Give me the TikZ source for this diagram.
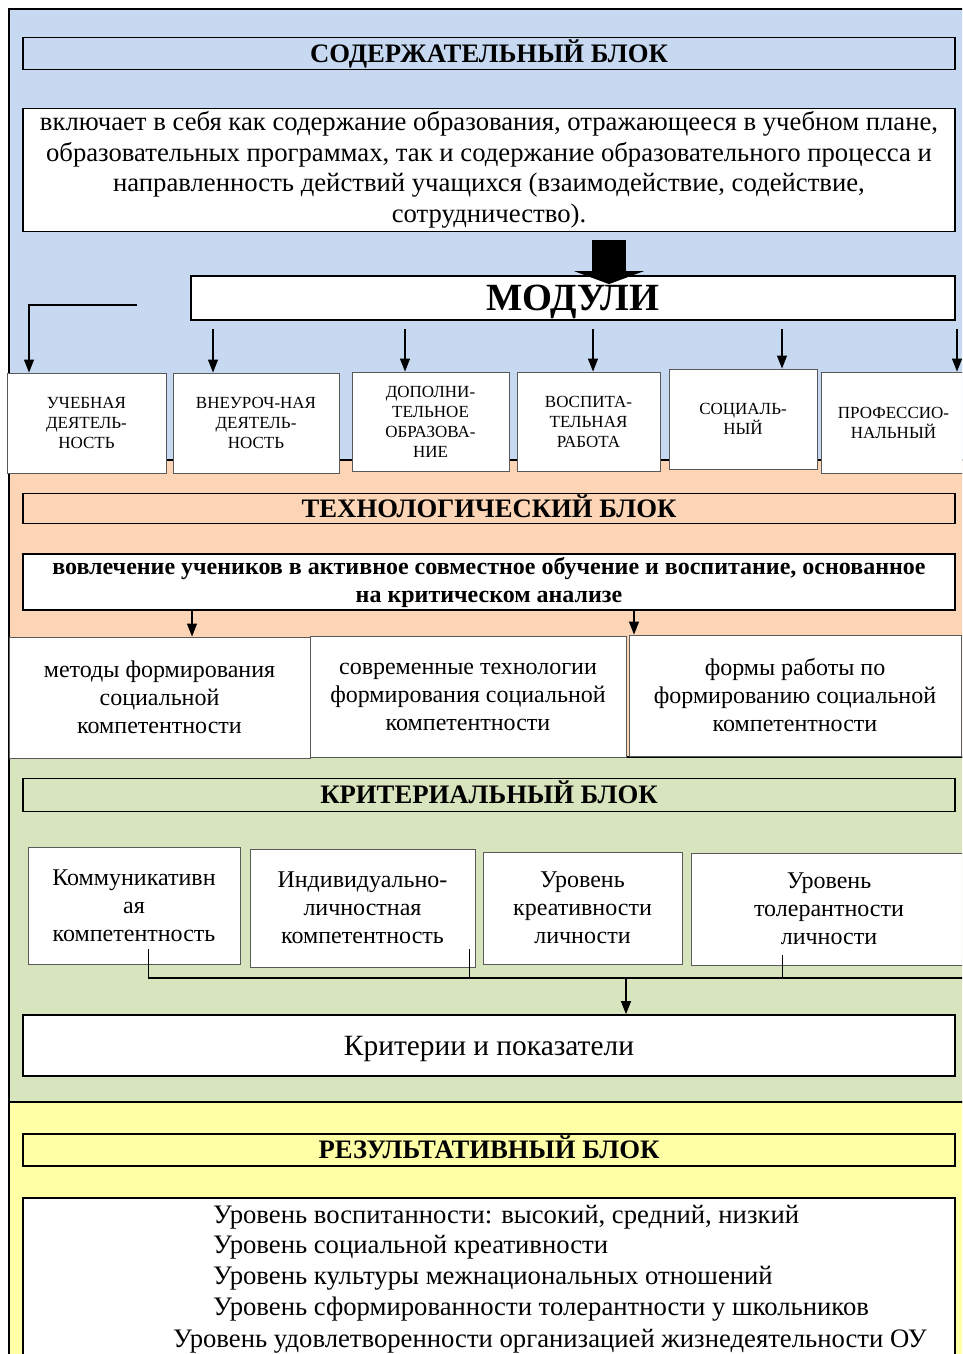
\documentclass[tikz,border=0pt]{standalone}
\usepackage{fontspec}
\setmainfont{Liberation Serif}
\usetikzlibrary{arrows.meta,positioning,calc}

\definecolor{blockblue}{HTML}{C6D9F1}
\definecolor{blockorange}{HTML}{FBD5B5}
\definecolor{blockgreen}{HTML}{D7E4BD}
\definecolor{blockyellow}{HTML}{FFFFA6}
\definecolor{modgray}{HTML}{595959}

\newcommand{\fsz}[2]{\fontsize{#1}{#2}\selectfont}

\begin{document}
\begin{tikzpicture}[x=1pt, y=-1pt,
    region/.style={draw=black, line width=2pt},
    blocktitle/.style={draw, line width=1.8pt, minimum width=932pt, minimum height=32pt, inner sep=0pt, text height=17.7pt, text depth=0pt, font=\bfseries\fsz{26.7}{30}},
    whitebox/.style={draw, fill=white, line width=1.8pt, minimum width=932pt, inner sep=0pt, align=center},
    modbox/.style={draw=modgray, fill=white, line width=0.9pt, inner sep=0pt, align=center, font=\fsz{17}{20}},
    thinbox/.style={draw=modgray, fill=white, line width=0.9pt, inner sep=0pt, align=center, font=\fsz{24}{28}},
    arr/.style={-{Triangle[length=13pt,width=10pt]}, line width=1.2pt}]
        \useasboundingbox (0,0) rectangle (962,1354);
        \clip (0,0) rectangle (962,1354);

        % coloured blocks
        \draw[region, fill=blockblue] (9,9) rectangle (990,460);
        \draw[region, fill=blockorange] (9,460) rectangle (990,757);
        \draw[region, fill=blockgreen] (9,757) rectangle (990,1102);
        \draw[region, fill=blockyellow] (9,1102) rectangle (990,1400);

        % content block
        \node[blocktitle, fill=blockblue] (sod-title) at (489,53.5) {СОДЕРЖАТЕЛЬНЫЙ БЛОК};
        \node[whitebox, minimum height=123pt, font=\fsz{26.7}{30.5}] (sod-text) at (489,170) {включает в себя как содержание образования, отражающееся в учебном плане,\\образовательных программах, так и содержание образовательного процесса и\\направленность действий учащихся (взаимодействие, содействие,\\сотрудничество).};

        \node[whitebox, minimum width=764pt, minimum height=44pt, text height=25.5pt, text depth=0pt, font=\bfseries\fsz{38.5}{40}] (moduli) at (573,298) {МОДУЛИ};

        \coordinate (big-x) at (609,0);
        \draw[line width=34pt, -{Triangle[length=13pt,width=70pt,line width=0pt]}] ([yshift=-8pt]big-x |- sod-text.south) -- ([yshift=-9pt]big-x |- moduli.north);

        \node[modbox, minimum width=159pt, minimum height=100pt] (mod-uch) at (86.5,423) {УЧЕБНАЯ\\ДЕЯТЕЛЬ-\\НОСТЬ};
        \node[modbox, minimum width=166pt, minimum height=100pt] (mod-vneur) at (256,423) {ВНЕУРОЧ-НАЯ\\ДЕЯТЕЛЬ-\\НОСТЬ};
        \node[modbox, minimum width=157pt, minimum height=99pt] (mod-dop) at (430.5,421.5) {ДОПОЛНИ-\\ТЕЛЬНОЕ\\ОБРАЗОВА-\\НИЕ};
        \node[modbox, minimum width=143pt, minimum height=99pt] (mod-vosp) at (588.5,421.5) {ВОСПИТА-\\ТЕЛЬНАЯ\\РАБОТА};
        \node[modbox, minimum width=148pt, minimum height=100pt] (mod-soc) at (743,419) {СОЦИАЛЬ-\\НЫЙ};
        \node[modbox, minimum width=145pt, minimum height=101pt] (mod-prof) at (893.5,422.5) {ПРОФЕССИО-\\НАЛЬНЫЙ};

        \coordinate (m-left) at (137,305);
        \coordinate (m-vneur) at (213,329);
        \coordinate (m-dop) at (405,329);
        \coordinate (m-vosp) at (593,329);
        \coordinate (m-soc) at (782,329);
        \coordinate (m-prof) at (957,329);
        \draw[arr] (m-left) -| ([xshift=-57.5pt]mod-uch.north);
        \draw[arr] (m-vneur) -- (m-vneur |- mod-vneur.north);
        \draw[arr] (m-dop) -- (m-dop |- mod-dop.north);
        \draw[arr] (m-vosp) -- (m-vosp |- mod-vosp.north);
        \draw[arr] (m-soc) -- (m-soc |- mod-soc.north);
        \draw[arr] (m-prof) -- (m-prof |- mod-prof.north);

        % technology block
        \node[blocktitle, fill=blockorange, minimum height=30pt] (teh-title) at (489,508.5) {ТЕХНОЛОГИЧЕСКИЙ БЛОК};
        \node[whitebox, minimum height=56pt, font=\bfseries\fsz{24}{28}] (teh-text) at (489,582) {вовлечение учеников в активное совместное обучение и воспитание, основанное\\на критическом анализе};

        \node[thinbox, minimum width=301pt, minimum height=121pt] (teh-metody) at (159.5,697.5) {методы формирования\\социальной\\компетентности};
        \node[thinbox, minimum width=316pt, minimum height=121pt] (teh-tehnol) at (468,697) {современные технологии\\формирования социальной\\компетентности};
        \node[thinbox, minimum width=332pt, minimum height=121pt] (teh-formy) at (795,695.5) {формы работы по\\формированию социальной\\компетентности};

        \coordinate (t-left) at (192,0);
        \coordinate (t-right) at (634,0);
        \draw[arr] (t-left |- teh-text.south) -- (t-left |- teh-metody.north);
        \draw[arr] (t-right |- teh-text.south) -- (t-right |- teh-formy.north);

        % criteria block
        \node[blocktitle, fill=blockgreen, minimum height=33pt] (krit-title) at (489,795) {КРИТЕРИАЛЬНЫЙ БЛОК};

        \node[thinbox, minimum width=212pt, minimum height=117pt] (krit-komm) at (134,905.5) {Коммуникативн\\ая\\компетентность};
        \node[thinbox, minimum width=225pt, minimum height=118pt] (krit-ind) at (362.5,908) {Индивидуально-\\личностная\\компетентность};
        \node[thinbox, minimum width=199pt, minimum height=112pt] (krit-kreat) at (582.5,908) {Уровень\\креативности\\личности};
        \node[thinbox, minimum width=276pt, minimum height=112pt] (krit-toler) at (829,909) {Уровень\\толерантности\\личности};

        \node[whitebox, minimum height=61pt, text height=20pt, text depth=0pt, font=\fsz{29.4}{32}] (krit-pokaz) at (489,1045.5) {Критерии и показатели};

        \coordinate (k-komm) at (148,949);
        \coordinate (k-ind) at (469,949);
        \coordinate (k-toler) at (782,955);
        \coordinate (bus-left) at (148,978);
        \coordinate (bus-right) at (990,978);
        \coordinate (bus-mid) at (626,978);
        \draw[line width=1pt] (k-komm) -- (bus-left);
        \draw[line width=1pt] (k-ind) -- (k-ind |- bus-left);
        \draw[line width=1pt] (k-toler) -- (k-toler |- bus-left);
        \draw[line width=2pt] (bus-left) -- (bus-right);
        \draw[arr] (bus-mid) -- (bus-mid |- krit-pokaz.north);

        % result block
        \node[blocktitle, fill=blockyellow] (rez-title) at (489,1150) {РЕЗУЛЬТАТИВНЫЙ БЛОК};
        \draw[line width=1.8pt, fill=white] (23,1198) rectangle (955,1420);
        \node[anchor=west, align=left, inner sep=0pt, font=\fsz{26.7}{30.7}] (rez-list) at (213,1263) {Уровень воспитанности: высокий, средний, низкий\\Уровень социальной креативности\\Уровень культуры межнациональных отношений\\Уровень сформированности толерантности у школьников};
        \node[inner sep=0pt, font=\fsz{26.7}{30.7}] (rez-last) at (550,1341) {Уровень удовлетворенности организацией жизнедеятельности ОУ};
\end{tikzpicture}
\end{document}
